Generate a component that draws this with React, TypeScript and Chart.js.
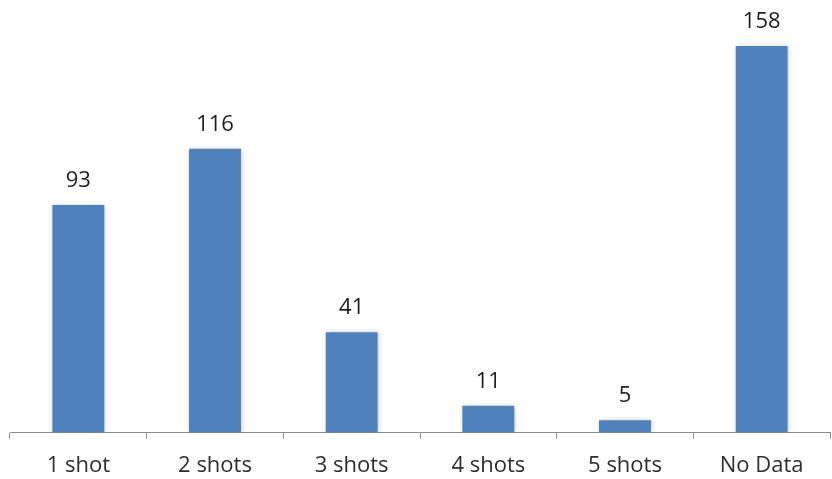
import React, { useEffect, useRef } from "react";
import { Chart, registerables } from "chart.js";

Chart.register(...registerables);

const categories = ["1 shot", "2 shots", "3 shots", "4 shots", "5 shots", "No Data"];
const counts = [93, 116, 41, 11, 5, 158];

const barColor = "#4F81BD";
const fontFamily = "'Open Sans', sans-serif";

// Soft drop shadow behind the bars
const barShadow = {
  id: "barShadow",
  beforeDatasetsDraw(chart: any) {
    const ctx = chart.ctx;
    ctx.save();
    ctx.shadowColor = "rgba(0,0,0,0.22)";
    ctx.shadowBlur = 5;
    ctx.shadowOffsetX = 1;
    ctx.shadowOffsetY = 0;
  },
  afterDatasetsDraw(chart: any) {
    chart.ctx.restore();
  },
};

// Value labels above each bar
const valueLabels = {
  id: "valueLabels",
  afterDatasetsDraw(chart: any) {
    const ctx = chart.ctx;
    const meta = chart.getDatasetMeta(0);
    ctx.save();
    ctx.font = `22px ${fontFamily}`;
    ctx.fillStyle = "#1E1E1E";
    ctx.textAlign = "center";
    ctx.textBaseline = "alphabetic";
    meta.data.forEach((bar: any, i: number) => {
      ctx.fillText(String(counts[i]), bar.x, bar.y - 18);
    });
    ctx.restore();
  },
};

export default function App() {
  const ref = useRef<HTMLCanvasElement>(null);

  useEffect(() => {
    if (!ref.current) return;
    const chart = new Chart(ref.current, {
      type: "bar",
      data: {
        labels: categories,
        datasets: [
          {
            data: counts,
            backgroundColor: barColor,
            borderWidth: 0,
            categoryPercentage: 1,
            barPercentage: 0.38,
          },
        ],
      },
      options: {
        animation: false,
        responsive: false,
        maintainAspectRatio: false,
        layout: { padding: { left: 10, right: 2, top: 41, bottom: -14 } },
        plugins: { legend: { display: false }, tooltip: { enabled: false } },
        scales: {
          y: { display: false, min: 0, max: 160 },
          x: {
            offset: true,
            border: { display: true, color: "#8C8C8C", width: 1 },
            grid: {
              offset: true,
              drawOnChartArea: false,
              drawTicks: true,
              tickLength: 6,
              color: "#8C8C8C",
            },
            ticks: {
              color: "#2E2E2E",
              padding: 14,
              font: { family: fontFamily, size: 22 },
            },
          },
        },
      },
      plugins: [barShadow, valueLabels],
    });
    return () => chart.destroy();
  }, []);

  return (
    <div style={{ position: "fixed", left: 0, top: 0, width: 832, height: 479, background: "#fff", overflow: "hidden" }}>
      <canvas ref={ref} width={832} height={479} />
    </div>
  );
}
